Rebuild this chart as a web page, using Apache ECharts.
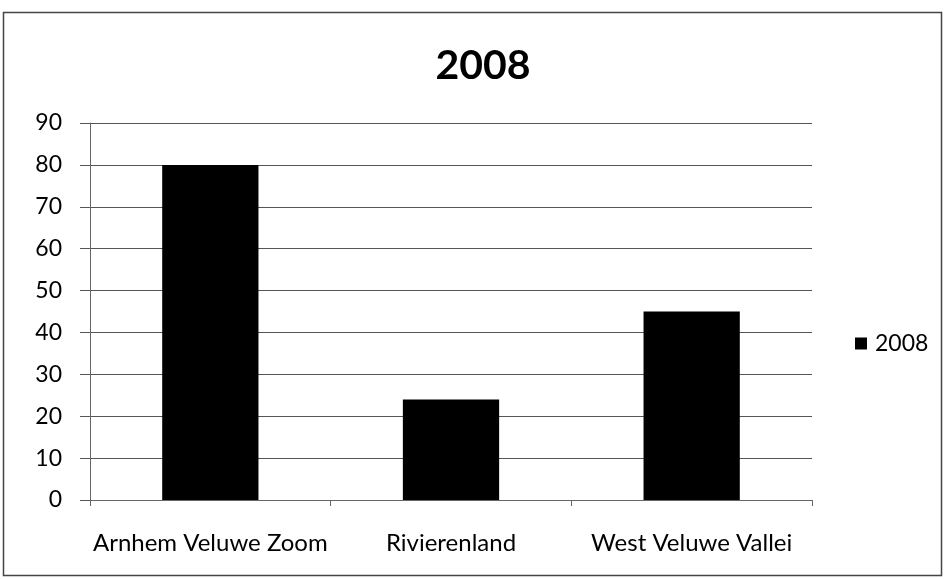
<!DOCTYPE html>
<html>
<head>
<meta charset="utf-8">
<script src="https://cdn.jsdelivr.net/npm/echarts@6/dist/echarts.min.js"></script>
<style>
  html, body { margin:0; padding:0; background:#fff; }
  #chart { width:946px; height:579px; }
</style>
</head>
<body>
<div id="chart"></div>
<script>
// data
var categories = ['Arnhem Veluwe Zoom', 'Rivierenland', 'West Veluwe Vallei'];
var values2008 = [80, 24, 45];
var seriesName = '2008';

var myChart = echarts.init(document.getElementById('chart'));
var font = 'Lato, "Open Sans", sans-serif';

var option = {
  animation: false,
  title: {
    text: '2008',
    left: 478,
    textAlign: 'center',
    top: 40,
    textStyle: { fontFamily: font, fontSize: 41, fontWeight: 'bold', color: '#000' }
  },
  legend: {
    data: [seriesName],
    orient: 'vertical',
    left: 850,
    top: 327,
    itemWidth: 12,
    itemHeight: 12,
    itemGap: 6,
    icon: 'rect',
    textStyle: { fontFamily: font, fontSize: 23, color: '#000', padding: [0, 0, 0, 3] }
  },
  grid: { left: 90, right: 134, top: 123, bottom: 79 },
  xAxis: {
    type: 'category',
    data: categories,
    axisLine: { lineStyle: { color: '#666' } },
    axisTick: { show: true, length: 6, lineStyle: { color: '#666' } },
    axisLabel: { interval: 0, fontFamily: font, fontSize: 24, color: '#000', margin: 31 }
  },
  yAxis: {
    type: 'value',
    min: 0,
    max: 90,
    interval: 10,
    axisLine: { show: true, lineStyle: { color: '#666' } },
    axisTick: { show: true, length: 10, lineStyle: { color: '#555' } },
    axisLabel: { fontFamily: font, fontSize: 23, color: '#000', margin: 28 },
    splitLine: { lineStyle: { color: '#555', width: 1 } }
  },
  graphic: [{
    type: 'rect',
    shape: { x: 3.5, y: 12.5, width: 938, height: 563 },
    style: { fill: 'none', stroke: '#444', lineWidth: 1.5 },
    z: 100
  }],
  series: [{
    name: seriesName,
    type: 'bar',
    data: values2008,
    barWidth: '40%',
    itemStyle: { color: '#000' }
  }]
};

myChart.setOption(option);
</script>
</body>
</html>
